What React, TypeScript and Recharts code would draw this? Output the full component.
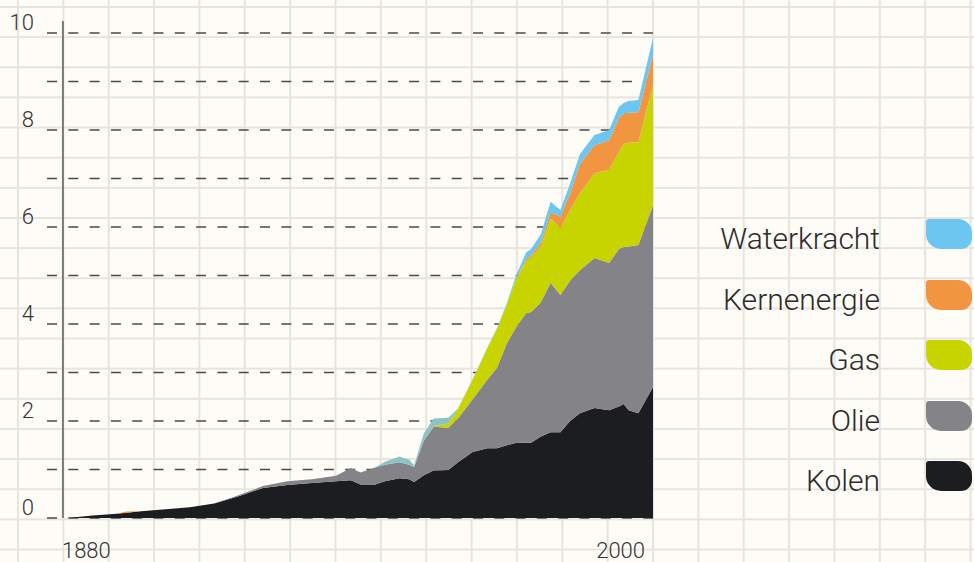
import { Area, AreaChart, CartesianGrid, Legend, ReferenceLine, XAxis, YAxis } from "recharts";

const years = [
  1880, 1885, 1890, 1892, 1895, 1900, 1905, 1910, 1915, 1920, 1925, 1930, 1935, 1938, 1940,
  1943, 1945, 1948, 1950, 1951, 1953, 1955, 1958, 1960, 1963, 1966, 1968, 1970, 1972, 1974,
  1975, 1977, 1979, 1981, 1983, 1985, 1988, 1991, 1993, 1994, 1995, 1997, 2000,
];
const kolen = [
  0, 0.05, 0.09, 0.11, 0.14, 0.18, 0.22, 0.3, 0.45, 0.62, 0.68, 0.72, 0.76, 0.78, 0.69,
  0.69, 0.76, 0.82, 0.8, 0.74, 0.88, 0.98, 0.99, 1.15, 1.36, 1.44, 1.44, 1.5, 1.55, 1.55,
  1.55, 1.68, 1.77, 1.77, 2.0, 2.16, 2.27, 2.22, 2.3, 2.35, 2.22, 2.16, 2.7,
];
const olie = [
  0, 0, 0, 0, 0, 0, 0, 0, 0.02, 0.04, 0.08, 0.08, 0.11, 0.25, 0.25,
  0.35, 0.34, 0.33, 0.3, 0.31, 0.72, 0.9, 0.87, 0.9, 1.09, 1.41, 1.66, 2.1, 2.4, 2.68,
  2.7, 2.77, 3.08, 2.83, 2.9, 2.95, 3.09, 3.04, 3.25, 3.24, 3.38, 3.47, 3.75,
];
const gas = [
  0, 0, 0, 0, 0, 0, 0, 0, 0, 0, 0, 0, 0, 0, 0,
  0, 0, 0, 0, 0, 0, 0.01, 0.09, 0.2, 0.4, 0.65, 0.8, 0.8, 1.0, 1.07,
  1.13, 1.15, 1.33, 1.38, 1.45, 1.59, 1.75, 1.92, 2.0, 2.13, 2.14, 2.12, 2.48,
];
const kern = [
  0, 0, 0, 0.025, 0, 0, 0, 0, 0, 0, 0, 0, 0, 0, 0,
  0, 0, 0, 0, 0, 0, 0, 0, 0, 0, 0, 0, 0, 0, 0.04,
  0.04, 0.08, 0.12, 0.24, 0.35, 0.6, 0.58, 0.61, 0.7, 0.63, 0.62, 0.62, 0.62,
];
const water = [
  0, 0, 0, 0, 0, 0, 0, 0, 0, 0, 0, 0, 0, 0, 0,
  0, 0.06, 0.12, 0.1, 0.04, 0.15, 0.16, 0.12, 0.01, 0.01, 0.01, 0.02, 0.03, 0.07, 0.14,
  0.13, 0.17, 0.22, 0.13, 0.2, 0.2, 0.21, 0.21, 0.23, 0.21, 0.24, 0.25, 0.35,
];
const yTicks = [0, 1, 2, 3, 4, 5, 6, 7, 8, 9, 10];
const xTicks = [1880, 2000];

const series = [
  { key: "kolen", name: "Kolen", color: "#1c1d21" },
  { key: "olie", name: "Olie", color: "#848388" },
  { key: "gas", name: "Gas", color: "#c8d400" },
  { key: "kern", name: "Kernenergie", color: "#f29540" },
  { key: "water", name: "Waterkracht", color: "#6cc6f0" },
];

const data = years.map((year, i) => ({
  year,
  kolen: kolen[i],
  olie: olie[i],
  gas: gas[i],
  kern: kern[i],
  water: water[i],
}));

const FONT = "Roboto, 'Noto Sans', sans-serif";

function YTick({ y, payload }: any) {
  if (payload.value % 2) return <g />;
  return (
    <text x={34} y={y - 11} textAnchor="end" dominantBaseline="central"
      fontFamily={FONT} fontWeight={300} fontSize={22} fill="#333">
      {payload.value}
    </text>
  );
}

function XTick({ x, payload }: any) {
  const first = payload.value === 1880;
  return (
    <text x={first ? x - 6 : x - 8} y={558} textAnchor={first ? "start" : "end"}
      fontFamily={FONT} fontWeight={300} fontSize={22} fill="#333">
      {payload.value}
    </text>
  );
}

function LegendBox() {
  return (
    <div style={{ position: "relative", width: 294, height: 300, fontFamily: FONT }}>
      {[...series].reverse().map((s, i) => (
        <div key={s.key}>
          <div style={{
            position: "absolute", right: 94, top: 9 + i * 60.5 + 5, whiteSpace: "nowrap",
            fontSize: 30, fontWeight: 300, lineHeight: "30px", color: "#2b2b2b",
          }}>
            {s.name}
          </div>
          <div style={{
            position: "absolute", left: 246, top: 9 + i * 60.5, width: 46, height: 30,
            background: s.color, borderRadius: "3px 14px 11px 15px",
          }} />
        </div>
      ))}
    </div>
  );
}

export default function App() {
  return (
    <div style={{
      position: "absolute", left: 0, top: 0, width: 974, height: 562,
      backgroundColor: "#fdfcf7",
      backgroundImage:
        "linear-gradient(to right, #e6e4dd 0, #e6e4dd 2px, transparent 2px), linear-gradient(to bottom, #e6e4dd 0, #e6e4dd 2px, transparent 2px)",
      backgroundSize: "45.36px 30.15px",
      backgroundPosition: "17px 6px",
    }}>
      <AreaChart width={974} height={562} data={data}
        margin={{ top: 21, right: 27, bottom: 0, left: 0 }}>
        <defs>
          <linearGradient id="waterFill" x1="0" y1="0" x2="1" y2="0">
            <stop offset="0.658" stopColor="#8cc4c5" />
            <stop offset="0.658" stopColor="#6cc6f0" />
          </linearGradient>
        </defs>
        <CartesianGrid vertical={false} horizontalValues={yTicks} stroke="#4a4a4a"
          strokeWidth={1.5} strokeDasharray="10 11.3" />
        <XAxis dataKey="year" type="number" domain={[1875.7, 2000]} allowDataOverflow
          ticks={xTicks} interval={0} height={44} axisLine={false} tickLine={false} tick={<XTick />} />
        <YAxis type="number" domain={[0, 10.25]} allowDataOverflow ticks={yTicks} interval={0}
          width={47} axisLine={false} tickLine={false} tick={<YTick />} />
        <ReferenceLine x={1878.97} stroke="#7a7a7a" strokeWidth={2} />
        {series.map((s) => (
          <Area key={s.key} dataKey={s.key} name={s.name} stackId="e" type="linear"
            stroke="none" fill={s.key === "water" ? "url(#waterFill)" : s.color}
            fillOpacity={1} isAnimationActive={false} />
        ))}
        <Legend content={<LegendBox />} layout="vertical" align="right" verticalAlign="middle"
          wrapperStyle={{ position: "absolute", left: 680, top: 210, width: 294, height: 300 }} />
      </AreaChart>
    </div>
  );
}
